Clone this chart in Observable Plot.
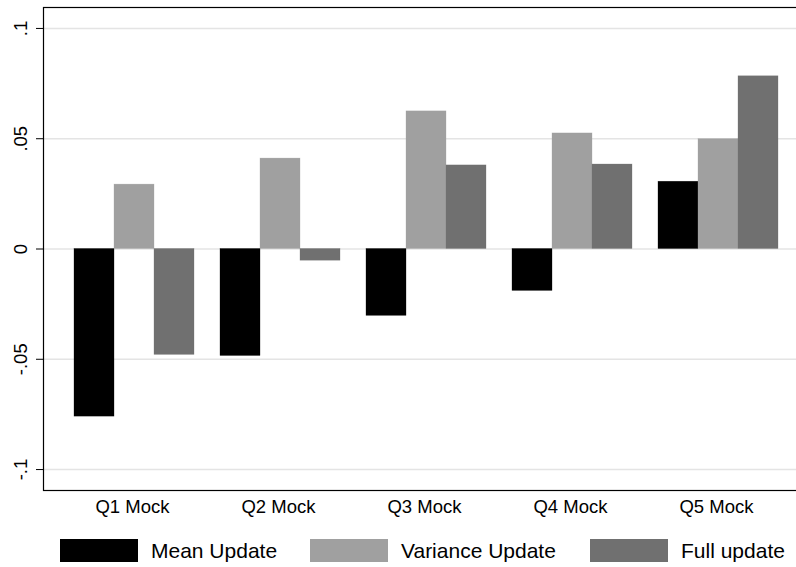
<!DOCTYPE html>
<html>
<head>
<meta charset="utf-8">
<script src="https://cdn.jsdelivr.net/npm/d3@7"></script>
<script src="https://cdn.jsdelivr.net/npm/@observablehq/plot@0.6"></script>
<style>
  html, body { margin: 0; padding: 0; background: #fff; overflow: hidden; }
  body { width: 796px; height: 567px; font-family: "Liberation Sans", Arial, Helvetica, sans-serif; }
  #chart { width: 808px; overflow: visible; }
  #chart svg { max-width: none !important; display: block; }
  #legend { font-size: 21px; color: #000; }
  .sw { width: 78px; height: 23px; margin-right: 13px; }
  .item { display: flex; align-items: center; line-height: 23px; }
</style>
</head>
<body>
<div id="chart"></div>
<div id="legend"></div>
<script>
const categories = ["Q1 Mock", "Q2 Mock", "Q3 Mock", "Q4 Mock", "Q5 Mock"];
const seriesNames = ["Mean Update", "Variance Update", "Full update"];
const seriesColors = ["#000000", "#a0a0a0", "#707070"];
const meanUpdate = [-0.076, -0.0485, -0.0303, -0.019, 0.0305];
const varianceUpdate = [0.0292, 0.041, 0.0624, 0.0524, 0.0498];
const fullUpdate = [-0.048, -0.0053, 0.0379, 0.0383, 0.0783];
const yTicks = [-0.1, -0.05, 0, 0.05, 0.1];
const yTickLabels = ["-.1", "-.05", "0", ".05", ".1"];

const seriesValues = [meanUpdate, varianceUpdate, fullUpdate];
const rows = seriesValues.map((vals, s) =>
  categories.map((c, i) => ({ cat: c, series: seriesNames[s], value: vals[i] })));

const n = seriesNames.length;
const bandwidth = 120;
const sub = bandwidth / n;

const barMarks = rows.map((data, s) =>
  Plot.barY(data, {
    x: "cat", y: "value", fill: seriesColors[s],
    stroke: seriesColors[s], strokeOpacity: 0.6, strokeWidth: 0.5,
    insetLeft: sub * s, insetRight: sub * (n - 1 - s)
  }));

const chart = Plot.plot({
  width: 808,
  height: 525,
  marginLeft: 43,
  marginRight: 0,
  marginTop: 7,
  marginBottom: 35,
  style: { fontFamily: "Liberation Sans, Arial, Helvetica, sans-serif", fontSize: "18.5px", color: "#000", background: "#fff", maxWidth: "none" },
  x: { type: "band", domain: categories, paddingInner: 0.1795, paddingOuter: 0.205, label: null },
  y: { domain: [-0.1095, 0.1095], label: null },
  marks: [
    Plot.gridY(yTicks, { stroke: "#e4e4e4", strokeOpacity: 1, strokeWidth: 1.5 }),
    ...barMarks,
    Plot.frame({ stroke: "#000", strokeWidth: 1.2 }),
    Plot.axisY(yTicks, { tickFormat: (d) => yTickLabels[yTicks.indexOf(d)], tickRotate: -90, tickSize: 7, tickPadding: 10, label: null, fontSize: 18.5 }),
    Plot.axisX({ tickSize: 0, tickPadding: 9, label: null, fontSize: 18.5, dx: -2 })
  ]
});
document.getElementById("chart").appendChild(chart);

const legend = document.getElementById("legend");
const positions = [60, 310, 590];
seriesNames.forEach((name, i) => {
  const item = document.createElement("div");
  item.className = "item";
  item.style.position = "absolute";
  item.style.left = positions[i] + "px";
  item.style.top = "539px";
  const sw = document.createElement("div");
  sw.className = "sw";
  sw.style.background = seriesColors[i];
  const label = document.createElement("span");
  label.textContent = name;
  item.appendChild(sw);
  item.appendChild(label);
  legend.appendChild(item);
});
</script>
</body>
</html>
